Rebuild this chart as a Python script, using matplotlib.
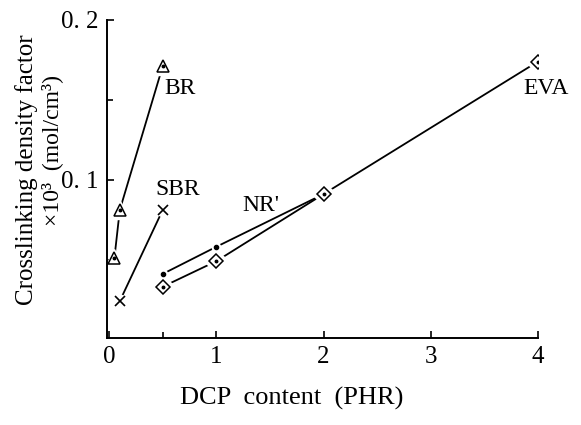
import numpy as np
import matplotlib.pyplot as plt

# data (DCP content in PHR, crosslinking density x10^3)
br_x = [0.05, 0.1, 0.5]
br_y = [0.051, 0.081, 0.171]
sbr_x = [0.1, 0.5]
sbr_y = [0.024, 0.081]
nr_x = [0.5, 1.0, 2.0]
nr_y = [0.041, 0.058, 0.091]
eva_x = [0.5, 1.0, 2.0, 4.0]
eva_y = [0.033, 0.049, 0.091, 0.174]

xticks = [0, 1, 2, 3, 4]
yticks = [0.1, 0.2]
ytick_labels = ["0. 1", "0. 2"]

plt.rcParams["font.family"] = ["Liberation Serif", "DejaVu Serif"]

fig = plt.figure(figsize=(5.81, 4.25), dpi=100)
ax = fig.add_axes([0.184, 0.205, 0.742, 0.748])


def series(x, y, marker, size, dot=True):
    # line first, then a white halo so the line stops short of the marker
    ax.plot(x, y, "-", color="black", lw=1.3, zorder=1)
    ax.plot(x, y, ls="none", marker=marker, ms=size + 5, mfc="white",
            mec="white", zorder=2)
    ax.plot(x, y, ls="none", marker=marker, ms=size, mfc="white",
            mec="black", mew=1.1, zorder=3)
    if dot:
        ax.plot(x, y, ls="none", marker="o", ms=1.8, color="black", zorder=4)


series(br_x, br_y, "^", 8)
series(eva_x, eva_y, "D", 7.5)

# SBR crosses
ax.plot(sbr_x, sbr_y, "-", color="black", lw=1.3, zorder=1)
ax.plot(sbr_x, sbr_y, ls="none", marker="o", ms=9, mfc="white", mec="white", zorder=2)
ax.plot(sbr_x, sbr_y, ls="none", marker="x", ms=6.5, color="black", mew=1.2, zorder=3)

# NR: small dots, last point shares the EVA diamond
ax.plot(nr_x, nr_y, "-", color="black", lw=1.3, zorder=1)
ax.plot(nr_x[:-1], nr_y[:-1], ls="none", marker="o", ms=6, mfc="white", mec="white", zorder=2)
ax.plot(nr_x[:-1], nr_y[:-1], ls="none", marker="o", ms=3, color="black", zorder=3)

lab = dict(fontsize=17, va="center")
ax.text(0.52, 0.157, "BR", **lab)
ax.text(0.43, 0.094, "SBR", **lab)
ax.text(1.24, 0.084, "NR'", **lab)
ax.text(3.86, 0.157, "EVA", **lab)

ax.set_xlim(-0.02, 4.0)
ax.set_ylim(0.001, 0.2)
ax.set_xticks(xticks)
ax.set_yticks(yticks)
ax.set_yticklabels(ytick_labels)
ax.set_xticks([0.5], minor=True)
ax.set_yticks([0.05, 0.15], minor=True)
ax.tick_params(direction="in", labelsize=18, length=5, width=1.2, pad=6)
ax.tick_params(which="minor", direction="in", length=4, width=1.2)
for s in ["top", "right"]:
    ax.spines[s].set_visible(False)
for s in ["left", "bottom"]:
    ax.spines[s].set_linewidth(1.4)

fig.text(0.502, 0.063, "DCP  content  (PHR)", fontsize=19,
         ha="center", va="center")
fig.text(0.046, 0.60, "Crosslinking density factor", rotation=90,
         fontsize=18, ha="center", va="center")
fig.text(0.090, 0.647, "×10³  (mol/cm³)", rotation=90,
         fontsize=17, ha="center", va="center")

fig.savefig("out.png", dpi=100)
